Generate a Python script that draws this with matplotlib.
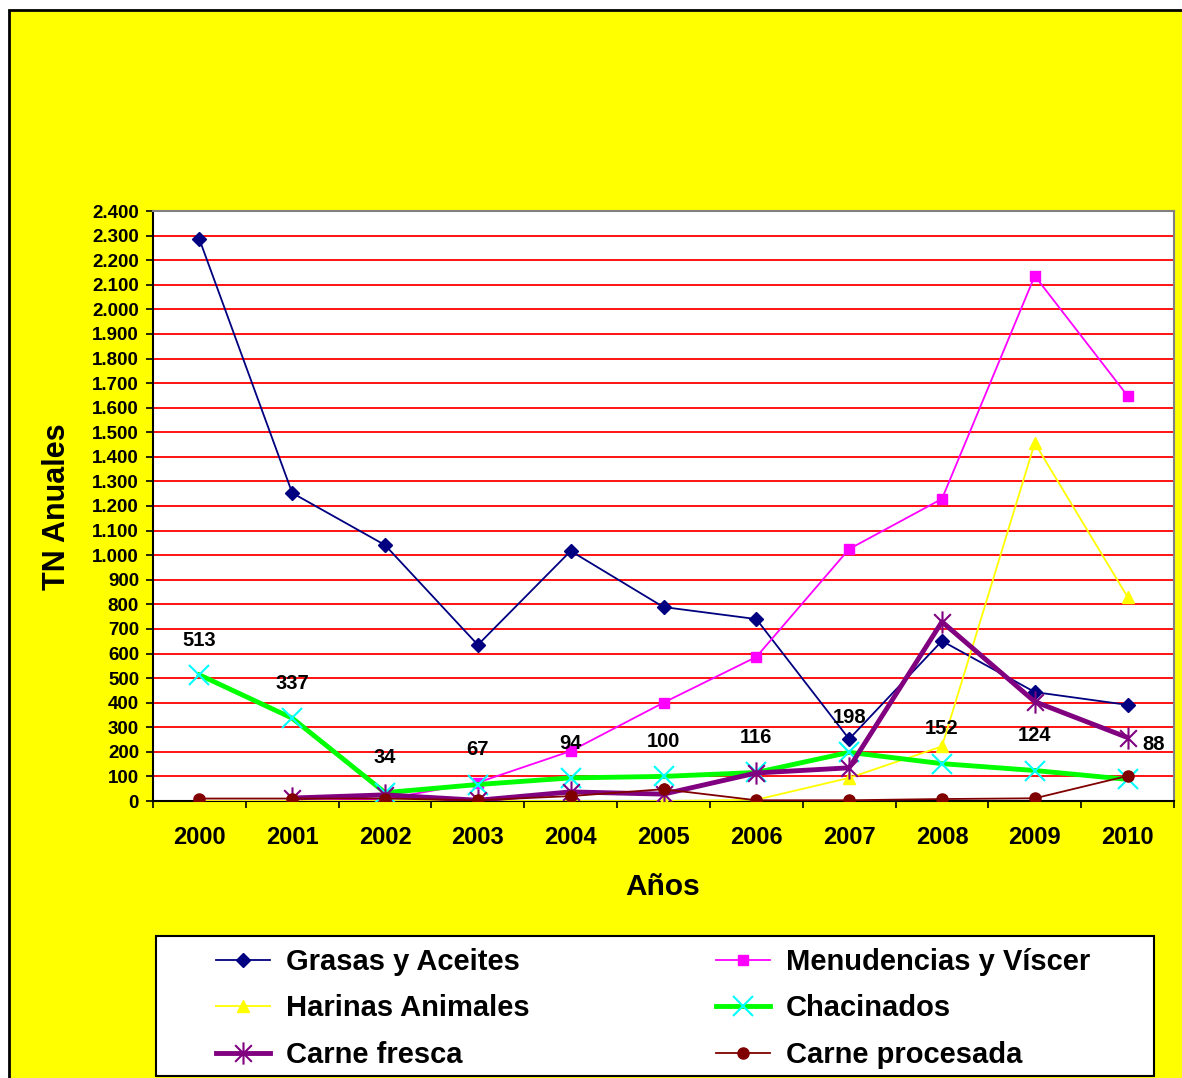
import numpy as np
import matplotlib
matplotlib.use("Agg")
import matplotlib.pyplot as plt
from matplotlib.patches import Rectangle
from matplotlib.path import Path
from matplotlib.ticker import FuncFormatter, MultipleLocator, FixedLocator

plt.rcParams['font.family'] = ['Liberation Sans', 'DejaVu Sans']
plt.rcParams['font.weight'] = 'bold'

years = ['2000', '2001', '2002', '2003', '2004', '2005', '2006', '2007', '2008', '2009', '2010']
grasas = [2285, 1253, 1041, 635, 1017, 789, 740, 252, 651, 443, 391]
menudencias = [0, 0, 8, 75, 203, 400, 586, 1025, 1229, 2136, 1648]
harinas = [0, 0, 0, 0, 0, 0, 5, 94, 222, 1456, 830]
chacinados = [513, 337, 34, 67, 94, 100, 116, 198, 152, 124, 88]
carne_fresca = [np.nan, 12, 25, 3, 37, 28, 114, 135, 729, 404, 258]
carne_procesada = [10, 10, 10, 3, 20, 48, 3, 3, 8, 11, 102]

W, H = 1182, 1078
fig = plt.figure(figsize=(W / 100, H / 100), dpi=100, facecolor='white')

bg = Rectangle((9 / W, -0.01), 1.0, (H - 10) / H + 0.01, transform=fig.transFigure,
               facecolor='#FFFF00', edgecolor='black', linewidth=2, zorder=-10)
fig.patches.append(bg)

ax = fig.add_axes([153 / W, 1 - 801 / H, (1174 - 153) / W, (801 - 211) / H])
ax.set_facecolor('white')
x = np.arange(len(years))

# Excel-style star marker: vertical bar plus an X
d = 0.75
star = Path([(0, -1), (0, 1), (-d, -d), (d, d), (-d, d), (d, -d)],
            [Path.MOVETO, Path.LINETO, Path.MOVETO, Path.LINETO, Path.MOVETO, Path.LINETO])

l1, = ax.plot(x, grasas, color='#000080', lw=1.3, marker='D', ms=7, zorder=3)
l2, = ax.plot(x, menudencias, color='#FF00FF', lw=1.3, marker='s', ms=7, zorder=3)
l3, = ax.plot(x, harinas, color='#FFFF00', lw=1.3, marker='^', ms=8, zorder=3)
l4, = ax.plot(x, chacinados, color='#00FF00', lw=3.5, marker='x', ms=15,
              mec='#00FFFF', mew=1.5, zorder=4)
l5, = ax.plot(x, carne_fresca, color='#800080', lw=3.5, marker=star, ms=16,
              mec='#800080', mew=1.5, zorder=5)
l6, = ax.plot(x, carne_procesada, color='#800000', lw=1.3, marker='o', ms=8, zorder=6)

for i, v in enumerate(chacinados):
    dx = 19 if i == len(chacinados) - 1 else 0
    ax.annotate(f"{v}", (x[i], v), xytext=(dx, 25), textcoords='offset points',
                ha='center', va='center', fontsize=14.5, fontweight='bold', color='black',
                zorder=7)

ax.set_xlim(-0.5, len(years) - 0.5)
ax.set_ylim(0, 2400)
ax.yaxis.set_major_locator(MultipleLocator(100))
ax.yaxis.set_major_formatter(FuncFormatter(lambda v, p: f"{int(v):,}".replace(',', '.')))
ax.grid(axis='y', color='#FF0000', lw=1.3, zorder=1)
ax.set_axisbelow(True)

ax.xaxis.set_major_locator(FixedLocator(np.arange(-0.5, len(years), 1.0)))
ax.xaxis.set_major_formatter(FuncFormatter(lambda v, p: ''))
ax.set_xticks(x, labels=years, minor=True)
ax.tick_params(axis='x', which='minor', length=0, pad=18, labelsize=17)
ax.tick_params(axis='x', which='major', length=5, width=1.2, direction='out')
ax.tick_params(axis='y', length=5, width=1.2, direction='out', pad=5, labelsize=13.5)
for lab in ax.get_xticklabels(minor=True) + ax.get_yticklabels():
    lab.set_fontweight('bold')

for s in ['left', 'bottom']:
    ax.spines[s].set_color('black')
    ax.spines[s].set_linewidth(1.5)
for s in ['top', 'right']:
    ax.spines[s].set_color('#808080')
    ax.spines[s].set_linewidth(1.5)

fig.text(57 / W, 1 - 507 / H, 'TN Anuales', rotation=90, ha='center', va='center',
         fontsize=22, fontweight='bold')
fig.text(663 / W, 1 - 887 / H, 'Años', ha='center', va='center',
         fontsize=21.5, fontweight='bold')

lf = Rectangle((156 / W, 1 - 1076 / H), (1154 - 156) / W, (1076 - 936) / H,
               transform=fig.transFigure, facecolor='white', edgecolor='black',
               linewidth=1.5, zorder=1)
fig.patches.append(lf)

lkw = dict(frameon=False, handlelength=1.85, handletextpad=0.55,
           labelspacing=0.63, borderpad=0, borderaxespad=0, loc='upper left',
           prop={'weight': 'bold', 'size': 21})
leg1 = fig.legend([l1, l3, l5], ['Grasas y Aceites', 'Harinas Animales', 'Carne fresca'],
                  bbox_to_anchor=(216 / W, 1 - 948 / H), **lkw)
leg2 = fig.legend([l2, l4, l6], ['Menudencias y Víscer', 'Chacinados', 'Carne procesada'],
                  bbox_to_anchor=(716 / W, 1 - 948 / H), **lkw)
for lg in (leg1, leg2):
    lg.set_zorder(5)

fig.savefig('out.png', dpi=100, facecolor=fig.get_facecolor())
